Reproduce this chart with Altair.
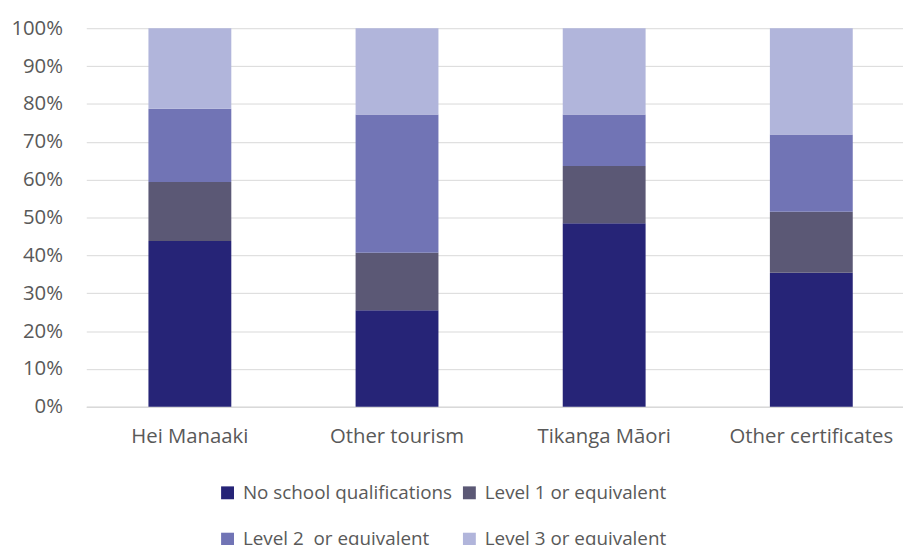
import altair as alt
import pandas as pd

categories = ["Hei Manaaki", "Other tourism", "Tikanga Māori", "Other certificates"]
series = ["No school qualifications", "Level 1 or equivalent", "Level 2\u00a0 or equivalent", "Level 3 or equivalent"]
no_school = [43.8, 25.5, 48.5, 35.4]
level1 = [15.6, 15.2, 15.1, 16.1]
level2 = [19.3, 36.5, 13.6, 20.4]
level3 = [21.3, 22.8, 22.8, 28.1]
colors = ["#262477", "#5B5875", "#7174B5", "#B1B5DB"]

rows = []
for si, (name, vals) in enumerate(zip(series, [no_school, level1, level2, level3])):
    for c, v in zip(categories, vals):
        rows.append({"category": c, "series": name, "value": v, "order": si})
df = pd.DataFrame(rows)

FONT = "Open Sans"
GREY = "#595959"

chart = alt.Chart(df).mark_bar().encode(
    x=alt.X("category:N", sort=categories, title=None,
            scale=alt.Scale(range=[0, 836], paddingInner=0.6, paddingOuter=0.3),
            axis=alt.Axis(labelAngle=0, ticks=False, domainColor="#D9D9D9", domainWidth=1.5,
                          labelPadding=20, labelFontSize=20.5, labelColor=GREY, labelFont=FONT)),
    y=alt.Y("value:Q", stack="normalize", title=None,
            scale=alt.Scale(domain=[0, 1]),
            axis=alt.Axis(format=".0%", values=[i / 10 for i in range(11)], ticks=False, domain=False,
                          gridColor="#D9D9D9", gridWidth=1, labelPadding=24, labelFontSize=20.5,
                          labelColor=GREY, labelFont=FONT)),
    color=alt.Color("series:N", sort=series, title=None,
                    scale=alt.Scale(domain=series, range=colors),
                    legend=alt.Legend(orient="none", legendX=133, legendY=459, columns=2,
                                      direction="horizontal", symbolType="square", symbolSize=169,
                                      symbolStrokeWidth=0, labelFontSize=19, labelColor=GREY,
                                      labelFont=FONT, labelOffset=6, columnPadding=7, rowPadding=27,
                                      labelLimit=400)),
    order=alt.Order("order:Q", sort="ascending"),
).properties(
    width=824, height=382,
    autosize=alt.AutoSizeParams(type="none"),
    padding={"left": 79, "top": 18, "right": 0, "bottom": 137},
).configure_view(stroke=None)

chart.save("out.html", embed_options={"renderer": "svg", "actions": False})
